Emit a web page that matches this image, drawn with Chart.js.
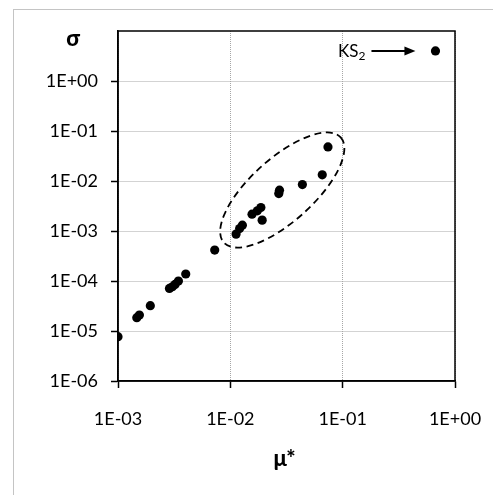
<!DOCTYPE html>
<html>
<head>
<meta charset="utf-8">
<script src="https://cdn.jsdelivr.net/npm/chart.js@4"></script>
<style>
  html, body { margin: 0; padding: 0; background: #fff; }
  #wrap { position: relative; width: 493px; height: 495px; overflow: hidden; }
  #frame { position: absolute; left: 13px; top: 9px; width: 520px; height: 520px; border: 1px solid #c4c4c4; }
  #chart { position: absolute; left: 0; top: 0; }
</style>
</head>
<body>
<div id="wrap">
  <div id="frame"></div>
  <canvas id="chart" width="493" height="495"></canvas>
</div>
<script>
// Data (mu* vs sigma, log-log)
const muStar = [0.67, 0.074, 0.0658, 0.0438, 0.0274, 0.0270, 0.0187, 0.0174, 0.0156, 0.0192,
                0.0128, 0.0121, 0.01125, 0.00726, 0.00401, 0.00345, 0.00322, 0.00305, 0.00287,
                0.00194, 0.00155, 0.00147, 0.001];
const sigma = [4.0, 0.048, 0.0133, 0.0085, 0.00655, 0.0056, 0.00295, 0.00253, 0.00217, 0.00165,
               0.00131, 0.00112, 0.000866, 0.000415, 0.000138, 0.0000997, 0.0000855, 0.0000768, 0.0000711,
               0.0000321, 0.0000209, 0.0000185, 0.0000077];

const xTicks = [1e-3, 1e-2, 1e-1, 1];
const xTickLabels = ['1E-03', '1E-02', '1E-01', '1E+00'];
const yTicks = [1e-6, 1e-5, 1e-4, 1e-3, 1e-2, 1e-1, 1];
const yTickLabels = ['1E-06', '1E-05', '1E-04', '1E-03', '1E-02', '1E-01', '1E+00'];

// Dashed ellipse round the upper cluster (centre in data units)
const ellipseCenter = { mu: 0.029, sigma: 0.0066 };
const labelPoint = { mu: 0.67, sigma: 4.0, text: 'KS', sub: '2' };

const FONT = 'Lato, "Open Sans", sans-serif';

const points = muStar.map((m, i) => ({ x: m, y: sigma[i] }));

function fixTicks(values) {
  return function(scale) {
    scale.ticks = values.map(v => ({ value: v }));
  };
}

function tickLabel(values, labels) {
  return function(value) {
    const i = values.findIndex(v => Math.abs(Math.log10(v) - Math.log10(value)) < 1e-6);
    return i >= 0 ? labels[i] : '';
  };
}

// Box, ellipse, arrow and axis titles
const extrasPlugin = {
  id: 'extras',
  afterDraw(chart) {
    const ctx = chart.ctx;
    const area = chart.chartArea;
    const xs = chart.scales.x;
    const ys = chart.scales.y;
    ctx.save();

    // plot box
    ctx.strokeStyle = '#000';
    ctx.lineWidth = 1.5;
    ctx.strokeRect(area.left, area.top, area.right - area.left, area.bottom - area.top);

    // ellipse
    const decade = xs.getPixelForValue(10) - xs.getPixelForValue(1);
    const cx = xs.getPixelForValue(ellipseCenter.mu);
    const cy = ys.getPixelForValue(ellipseCenter.sigma);
    ctx.beginPath();
    ctx.setLineDash([7, 4.5]);
    ctx.lineWidth = 1.8;
    ctx.ellipse(cx, cy, decade * 0.70, decade * 0.28, -42 * Math.PI / 180, 0, Math.PI * 2);
    ctx.stroke();
    ctx.setLineDash([]);

    // KS2 label + arrow
    const px = xs.getPixelForValue(labelPoint.mu);
    const py = ys.getPixelForValue(labelPoint.sigma);
    const arrowEnd = px - 20;
    const arrowStart = arrowEnd - 44;
    ctx.lineWidth = 2;
    ctx.beginPath();
    ctx.moveTo(arrowStart, py);
    ctx.lineTo(arrowEnd - 8, py);
    ctx.stroke();
    ctx.beginPath();
    ctx.moveTo(arrowEnd, py);
    ctx.lineTo(arrowEnd - 11, py - 4.5);
    ctx.lineTo(arrowEnd - 11, py + 4.5);
    ctx.closePath();
    ctx.fillStyle = '#000';
    ctx.fill();

    ctx.fillStyle = '#000';
    ctx.textBaseline = 'alphabetic';
    ctx.textAlign = 'right';
    ctx.font = '12px ' + FONT;
    const subW = ctx.measureText(labelPoint.sub).width;
    ctx.fillText(labelPoint.sub, arrowStart - 6, py + 9);
    ctx.font = '17px ' + FONT;
    ctx.fillText(labelPoint.text, arrowStart - 6 - subW, py + 6);

    // axis titles
    ctx.font = '900 22px ' + FONT;
    ctx.textAlign = 'center';
    ctx.textBaseline = 'middle';
    ctx.fillText('σ', 73, 39);
    ctx.fillText('μ*', (area.left + area.right) / 2 - 2, 459);

    ctx.restore();
  }
};

const canvas = document.getElementById('chart');
new Chart(canvas.getContext('2d'), {
  type: 'scatter',
  data: {
    datasets: [{
      data: points,
      backgroundColor: '#000',
      borderWidth: 0,
      pointRadius: 4.6,
      pointHoverRadius: 4.6
    }]
  },
  options: {
    responsive: false,
    animation: false,
    layout: { padding: { top: 31, right: 38, left: 0, bottom: 0 } },
    plugins: { legend: { display: false }, tooltip: { enabled: false } },
    scales: {
      x: {
        type: 'logarithmic',
        min: 1e-3,
        max: 1,
        afterBuildTicks: fixTicks(xTicks),
        afterFit(scale) { scale.height = 114; scale.paddingLeft = 0; scale.paddingRight = 0; },
        border: { display: true, color: '#000', width: 1.5, dash: [1, 1] },
        grid: { color: '#a6a6a6', lineWidth: 1, tickColor: '#000', tickLength: 7, tickWidth: 1.5 },
        ticks: { color: '#000', font: { family: FONT, size: 18 }, padding: 20, maxRotation: 0, autoSkip: false,
                 callback: tickLabel(xTicks, xTickLabels) }
      },
      y: {
        type: 'logarithmic',
        min: 1e-6,
        max: 10,
        afterBuildTicks: fixTicks(yTicks),
        afterFit(scale) { scale.width = 118; scale.paddingTop = 0; scale.paddingBottom = 0; },
        border: { display: true, color: '#000', width: 1.5, dash: [1, 1] },
        grid: { color: '#a6a6a6', lineWidth: 1, tickColor: '#000', tickLength: 7, tickWidth: 1.5 },
        ticks: { color: '#000', font: { family: FONT, size: 18 }, padding: 13, autoSkip: false,
                 callback: tickLabel(yTicks, yTickLabels) }
      }
    }
  },
  plugins: [extrasPlugin]
});
</script>
</body>
</html>
